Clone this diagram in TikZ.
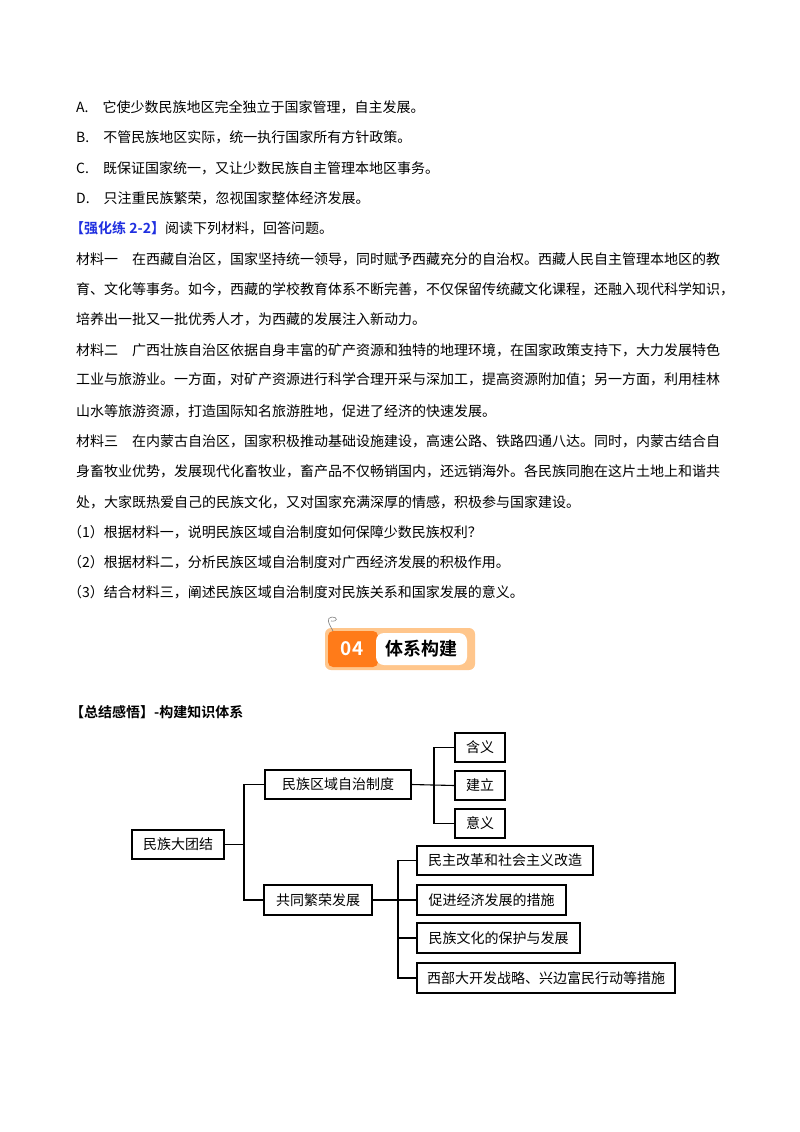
\documentclass[tikz,border=0pt]{standalone}
\usepackage{fontspec}
\setmainfont{Noto Sans CJK SC}
\newfontfamily\cjkb{Noto Sans CJK SC Bold}
\begin{document}
\begin{tikzpicture}[x=1pt,y=-1pt,
  txt/.style={anchor=west,inner sep=0pt,font=\fontsize{14}{16}\selectfont},
  bx/.style={draw,line width=1.3pt,minimum height=29pt,inner sep=0pt,font=\fontsize{14}{16}\selectfont},
  ln/.style={line width=1.1pt}]
\useasboundingbox (0,0) rectangle (800,1132);
\fill[white] (0,0) rectangle (800,1132);
% text lines
\node[txt] (l1) at (76,107) {A.\quad 它使少数民族地区完全独立于国家管理，自主发展。};
\node[txt] (l2) at (76,137) {B.\quad 不管民族地区实际，统一执行国家所有方针政策。};
\node[txt] (l3) at (76,168) {C.\quad 既保证国家统一，又让少数民族自主管理本地区事务。};
\node[txt] (l4) at (76,198) {D.\quad 只注重民族繁荣，忽视国家整体经济发展。};
\node[txt] (l5) at (70,228) {{\cjkb\color[HTML]{1F2FE0}【强化练 2-2】}阅读下列材料，回答问题。};
\node[txt] (l6) at (76,259) {材料一\quad 在西藏自治区，国家坚持统一领导，同时赋予西藏充分的自治权。西藏人民自主管理本地区的教};
\node[txt] (l7) at (76,289) {育、文化等事务。如今，西藏的学校教育体系不断完善，不仅保留传统藏文化课程，还融入现代科学知识，};
\node[txt] (l8) at (76,319) {培养出一批又一批优秀人才，为西藏的发展注入新动力。};
\node[txt] (l9) at (76,350) {材料二\quad 广西壮族自治区依据自身丰富的矿产资源和独特的地理环境，在国家政策支持下，大力发展特色};
\node[txt] (l10) at (76,380) {工业与旅游业。一方面，对矿产资源进行科学合理开采与深加工，提高资源附加值；另一方面，利用桂林};
\node[txt] (l11) at (76,411) {山水等旅游资源，打造国际知名旅游胜地，促进了经济的快速发展。};
\node[txt] (l12) at (76,441) {材料三\quad 在内蒙古自治区，国家积极推动基础设施建设，高速公路、铁路四通八达。同时，内蒙古结合自};
\node[txt] (l13) at (76,471) {身畜牧业优势，发展现代化畜牧业，畜产品不仅畅销国内，还远销海外。各民族同胞在这片土地上和谐共};
\node[txt] (l14) at (76,502) {处，大家既热爱自己的民族文化，又对国家充满深厚的情感，积极参与国家建设。};
\node[txt] (l15) at (68,532) {（1）根据材料一，说明民族区域自治制度如何保障少数民族权利？};
\node[txt] (l16) at (68,562) {（2）根据材料二，分析民族区域自治制度对广西经济发展的积极作用。};
\node[txt] (l17) at (68,592) {（3）结合材料三，阐述民族区域自治制度对民族关系和国家发展的意义。};
% badge
\fill[orange!45,rounded corners=6pt] (325,628) rectangle (475,670);
\fill[orange!85!red!90!white,rounded corners=5pt] (328,631) rectangle (378,667);
\fill[white,rounded corners=8pt] (376,633) rectangle (467,665);
\node[font=\cjkb\fontsize{19}{20}\selectfont,text=white] (b04) at (352,649) {04};
\node[font=\cjkb\fontsize{18}{20}\selectfont] (btt) at (421,649) {体系构建};
\draw[gray,line width=0.6pt] (333,631) .. controls (328,622) and (326,618) .. (332,617) .. controls (338,617) and (338,622) .. (331,621);
% heading
\node[txt,font=\cjkb\fontsize{14}{16}\selectfont] (h) at (70,712) {【总结感悟】-构建知识体系};
% tree
\node[bx,minimum width=92pt] (r) at (178,844.5) {民族大团结};
\node[bx,minimum width=146pt] (A) at (338,784.5) {民族区域自治制度};
\node[bx,minimum width=108pt,minimum height=30pt] (B) at (318,900) {共同繁荣发展};
\node[bx,minimum width=50pt] (a1) at (480,747.5) {含义};
\node[bx,minimum width=50pt] (a2) at (480,785.5) {建立};
\node[bx,minimum width=50pt] (a3) at (480,823.5) {意义};
\node[bx,minimum width=176pt] (b1) at (505,860.5) {民主改革和社会主义改造};
\node[bx,minimum width=149pt,minimum height=30pt] (b2) at (491.5,900) {促进经济发展的措施};
\node[bx,minimum width=163pt,minimum height=30pt] (b3) at (498.5,938) {民族文化的保护与发展};
\node[bx,minimum width=258pt,minimum height=30pt] (b4) at (546,978) {西部大开发战略、兴边富民行动等措施};
\coordinate (t1) at (244,844.5);
\coordinate (t2) at (434,785.5);
\coordinate (t3) at (398,900);
\draw[ln] (r.east) -- (t1);
\draw[ln] (A.west) -| (t1) |- (B.west);
\draw[ln] (A.east) -- (a2.west);
\draw[ln] (a1.west) -| (t2) |- (a3.west);
\draw[ln] (B.east) -- (b2.west);
\draw[ln] (b1.west) -| (t3) |- (b4.west);
\draw[ln] (t3) |- (b3.west);
\end{tikzpicture}
\end{document}
